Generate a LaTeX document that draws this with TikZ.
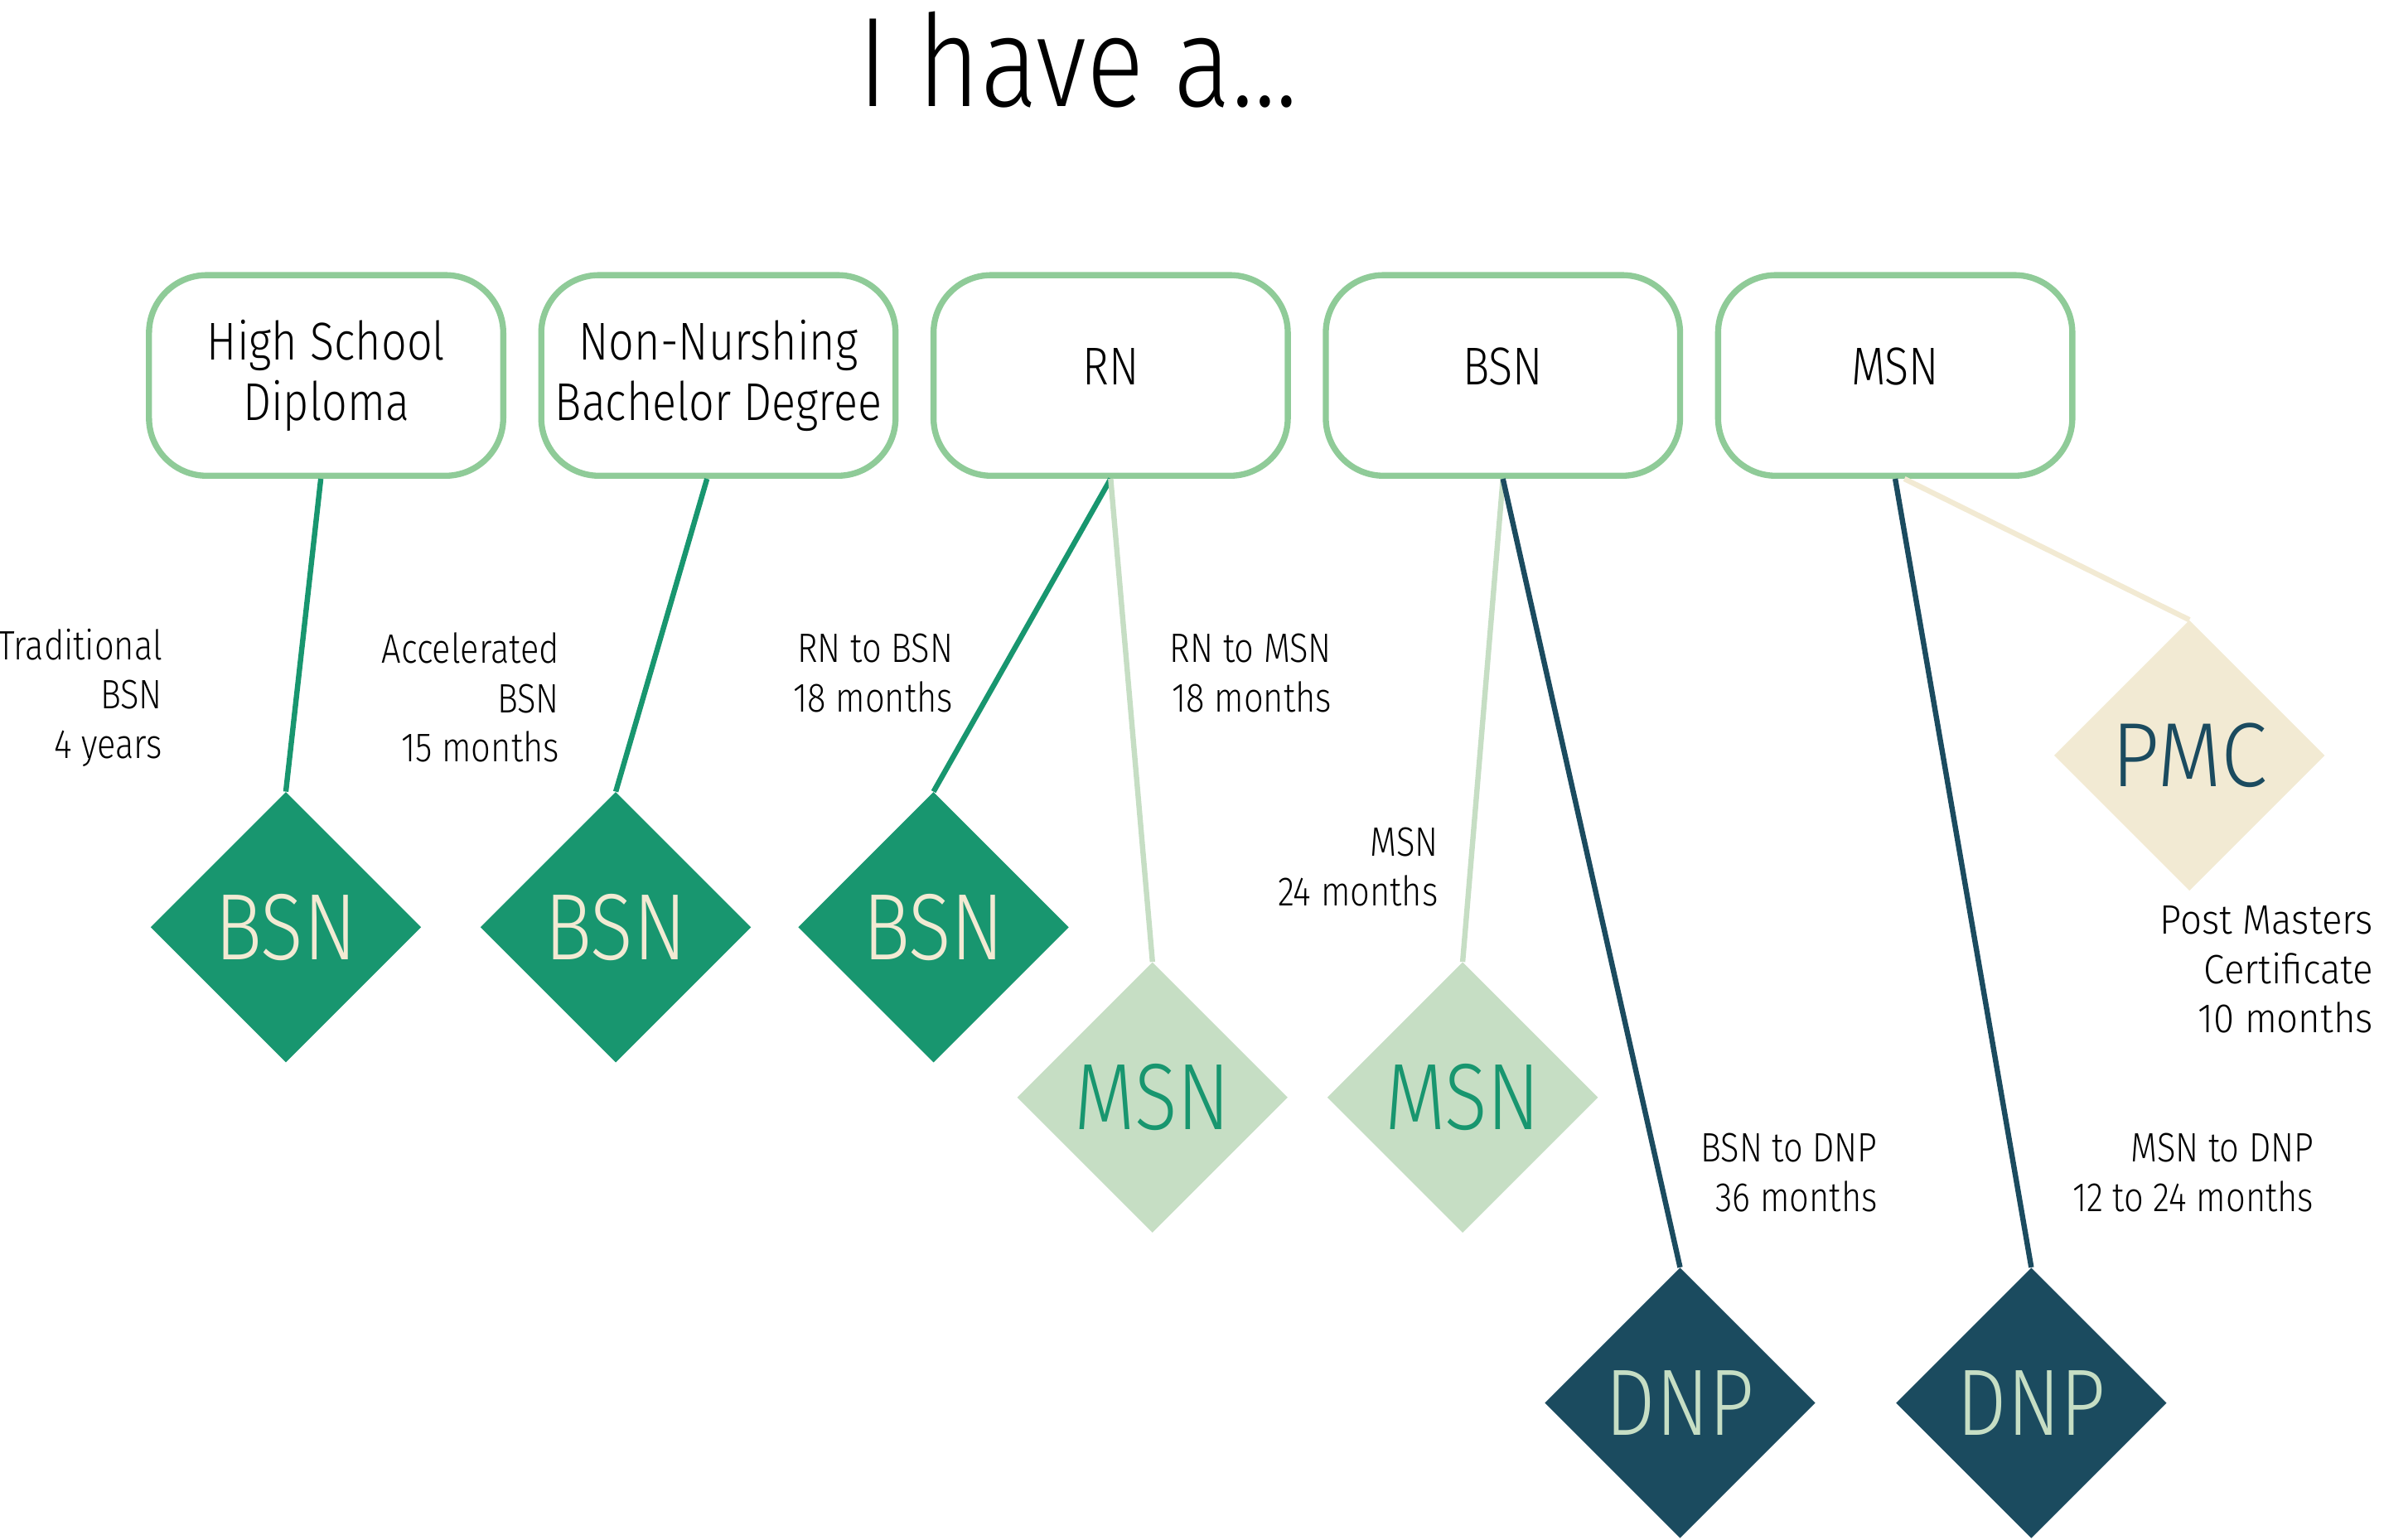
\documentclass[tikz,border=0pt]{standalone}
\usepackage{fontspec}
\setmainfont{Fira Sans Light}[FakeStretch=0.84]
\newfontfamily\widefont{Fira Sans Light}[FakeStretch=0.92]
\usepackage{tikz}
\usetikzlibrary{positioning,shapes.geometric}
\definecolor{boxgreen}{HTML}{8FCB98}
\definecolor{bsngreen}{HTML}{18966F}
\definecolor{msnlight}{HTML}{C6DEC4}
\definecolor{dnpteal}{HTML}{1B4B5F}
\definecolor{cream}{HTML}{F2EAD3}
\tikzset{
    %Define style for the degree boxes
    degree/.style={
           rectangle,
           rounded corners=38pt,
           draw=boxgreen, line width=4pt,
           minimum width=233pt,
           minimum height=132pt,
           align=center,
           font=\fontsize{35}{40}\selectfont},
    %Define style for the outcome diamonds
    goal/.style={
           diamond, aspect=1,
           minimum size=178pt,
           inner sep=0pt,
           font=\fontsize{62}{62}\selectfont},
    % Define line style
    track/.style={
           line width=3.5pt},
    % Define style for the duration labels
    note/.style={
           anchor=east, align=right,
           inner sep=0pt,
           font=\fontsize{27}{32.5}\selectfont}
}

\begin{document}
\begin{tikzpicture}[x=1pt, y=-1pt]
      \useasboundingbox (0,0) rectangle (1568,1013);
      \node[anchor=base, font=\fontsize{84}{84}\selectfont] (title) at (709,70) {I have a...};

      \node[degree] (hs) at (214.5,247) {High School\\Diploma};
      \node[degree, right=21pt of hs] (nn) {Non-Nurshing\\Bachelor Degree};
      \node[degree, text depth=12pt, right=21pt of nn] (rn) {RN};
      \node[degree, text depth=12pt, right=21pt of rn] (bsn) {BSN};
      \node[degree, text depth=12pt, right=21pt of bsn] (msn) {MSN};

      \node[goal, fill=bsngreen, text=cream] (bsnA) at (188,610) {BSN};
      \node[goal, fill=bsngreen, text=cream] (bsnB) at (405,610) {BSN};
      \node[goal, fill=bsngreen, text=cream] (bsnC) at (614,610) {BSN};
      \node[goal, fill=msnlight, text=bsngreen] (msnA) at (758,722) {MSN};
      \node[goal, fill=msnlight, text=bsngreen] (msnB) at (962,722) {MSN};
      \node[goal, fill=dnpteal, text=msnlight] (dnpA) at (1105,923) {DNP};
      \node[goal, fill=dnpteal, text=msnlight] (dnpB) at (1336,923) {DNP};
      \node[goal, fill=cream, text=dnpteal, font=\widefont\fontsize{60}{60}\selectfont] (pmc) at (1440,497) {PMC};

      \draw[track, bsngreen] ([xshift=-3.5pt]hs.south) -- (bsnA.north);
      \draw[track, bsngreen] ([xshift=-7.5pt]nn.south) -- (bsnB.north);
      \draw[track, bsngreen] (rn.south) -- (bsnC.north);
      \draw[track, msnlight] (rn.south) -- (msnA.north);
      \draw[track, msnlight] (bsn.south) -- (msnB.north);
      \draw[track, dnpteal] (bsn.south) -- (dnpA.north);
      \draw[track, dnpteal] (msn.south) -- (dnpB.north);
      \draw[track, cream] ([xshift=6pt]msn.south) -- (pmc.north);

      \node[note] (trad) at (107,459) {Traditional\\BSN\\4 years};
      \node[note] (accel) at (368,459) {Accelerated\\BSN\\15 months};
      \node[note] (rnbsn) at (627,443) {RN to BSN\\18 months};
      \node[note] (rnmsn) at (876,443) {RN to MSN\\18 months};
      \node[note] (msntime) at (946,570.5) {MSN\\24 months};
      \node[note] (bsndnp) at (1235,771.5) {BSN to DNP\\36 months};
      \node[note] (msndnp) at (1522,771.5) {MSN to DNP\\12 to 24 months};
      \node[note, font=\widefont\fontsize{27}{32.5}\selectfont] (pmcnote) at (1561,638) {Post Masters\\Certificate\\10 months};
  \end{tikzpicture}
\end{document}
